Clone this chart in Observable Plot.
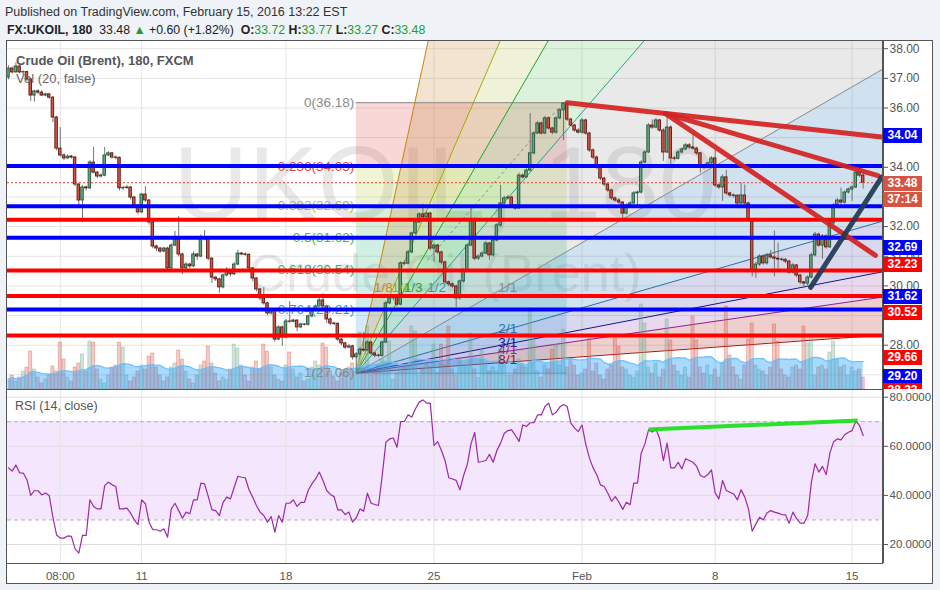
<!DOCTYPE html>
<html>
<head>
<meta charset="utf-8">
<script src="https://cdn.jsdelivr.net/npm/d3@7"></script>
<script src="https://cdn.jsdelivr.net/npm/@observablehq/plot@0.6"></script>
<style>
  html, body { margin: 0; padding: 0; }
  body { width: 940px; height: 590px; background: #eff2f6; position: relative; overflow: hidden; font-family: "Liberation Sans", Arial, Helvetica, sans-serif; }
  .abs { position: absolute; white-space: nowrap; }
  .hdr1 { left: 5px; top: 4px; font-size: 12.5px; line-height: 16px; color: #333; }
  .hdr2 { left: 7px; top: 22px; font-size: 12.3px; line-height: 16px; color: #222; }
  .g { color: #1f9d2b; }
  .panelbg { left: 6px; top: 40px; width: 927px; height: 543px; background: #fff; }
  .frame { left: 6px; top: 39.5px; width: 927px; height: 544px; border: 1.5px solid #555; box-sizing: border-box; pointer-events: none; }
  .sep { background: #555; }
  .plot { position: absolute; left: 0; width: 940px; }
  .lab { font-size: 13px; line-height: 16px; color: #555; }
  .badge { position: absolute; left: 0; width: 39px; height: 15px; color: #fff; font-weight: bold; font-size: 12px; line-height: 15px; text-align: center; }
</style>
</head>
<body>
<div class="abs hdr1">Published on TradingView.com, February 15, 2016 13:22 EST</div>
<div class="abs hdr2"><b>FX:UKOIL, 180</b>&nbsp; 33.48 <span class="g">&#9650;</span> +0.60 (+1.82%) &nbsp;<b>O:</b><span class="g">33.72</span> <b>H:</b><span class="g">33.77</span> <b>L:</b><span class="g">33.27</span> <b>C:</b><span class="g">33.48</span></div>
<div class="abs panelbg"></div>
<div id="bg" class="plot" style="top:40px"></div>
<div id="vol" class="plot" style="top:40px"></div>
<div id="fg" class="plot" style="top:40px"></div>
<div id="rsi" class="plot" style="top:389px"></div>
<div class="abs lab" style="left:16px;top:53px;font-weight:bold;color:#555">Crude Oil (Brent), 180, FXCM</div>
<div class="abs lab" style="left:16px;top:71px;color:#666">Vol (20, false)</div>
<div class="abs lab" style="left:15px;top:398px;font-size:12.5px;color:#555">RSI (14, close)</div>
<div class="abs sep" style="left:882px;top:40px;width:1.5px;height:523px"></div>
<div class="abs sep" style="left:6px;top:388.5px;width:877px;height:1.5px"></div>
<div class="abs sep" style="left:6px;top:562.5px;width:877px;height:1.5px"></div>
<div id="badges" class="abs" style="left:883px;top:40px;width:45px;height:348.5px;overflow:hidden"></div>
<div class="abs frame"></div>
<script>
// ---------------- data ----------------
const firstOpen = 37.03;
const close = [
37.33,37.20,37.40,37.20,37.21,36.96,36.42,36.56,36.52,36.42,
36.46,36.35,35.68,34.63,34.40,34.30,34.36,34.33,33.42,32.88,
33.32,33.29,34.16,33.82,33.69,33.72,34.40,34.47,34.33,34.32,
33.29,33.30,33.32,32.98,32.71,32.48,33.08,32.88,32.14,31.33,
31.26,31.16,31.26,30.59,31.36,31.57,31.06,30.59,30.72,30.66,
31.06,30.99,31.63,31.60,30.92,30.28,30.22,29.95,30.35,30.49,
30.39,30.72,31.09,31.06,31.05,30.59,30.25,29.88,29.58,29.41,
29.07,29.17,28.19,28.60,28.26,28.80,28.79,28.83,28.60,28.70,
28.69,28.97,29.17,29.31,29.51,29.31,28.87,28.73,28.72,28.19,
28.06,27.92,27.96,27.59,27.69,27.85,27.82,28.09,27.72,27.65,
27.64,28.09,29.41,29.58,29.61,29.37,30.76,30.75,31.13,31.77,
32.14,32.41,32.31,32.44,31.26,31.36,31.13,30.79,30.12,30.05,
29.98,29.58,30.15,30.52,31.36,32.24,30.92,30.99,31.09,31.43,
31.03,31.53,32.04,32.78,32.95,32.98,32.71,32.61,33.72,33.66,
33.89,34.47,35.14,35.48,35.14,35.65,35.31,35.17,35.65,35.92,
36.15,35.61,35.41,35.24,35.17,35.58,35.14,34.57,34.33,33.99,
33.62,33.42,33.22,32.95,32.88,32.81,32.44,32.71,32.78,33.12,
33.15,34.16,34.50,35.41,35.34,35.58,35.24,34.50,35.34,34.30,
34.29,34.50,34.60,34.74,34.67,34.63,34.47,34.06,33.99,34.13,
34.30,33.39,33.32,33.66,33.12,33.05,33.04,32.78,33.05,32.78,
32.21,30.52,30.72,30.99,30.76,31.03,30.96,30.92,30.89,30.88,
30.82,30.45,30.69,30.35,30.12,30.08,30.28,31.03,31.73,31.36,
31.67,31.30,32.11,32.71,32.88,32.81,33.15,33.25,33.32,33.82,
33.72,33.48];
const high = [
37.42,37.38,37.52,37.45,37.25,37.24,36.99,36.60,36.62,36.58,
36.50,36.49,36.38,35.72,35.34,34.45,34.42,34.40,34.37,33.45,
33.38,33.36,34.22,34.67,33.86,33.78,34.67,34.53,34.50,34.38,
34.35,33.36,33.38,33.35,33.02,32.75,33.12,33.35,32.92,32.18,
31.38,31.30,31.30,31.30,31.42,31.84,32.34,31.10,30.78,30.76,
31.15,31.10,31.72,31.87,31.65,30.96,30.32,30.26,30.40,30.62,
30.53,30.78,31.20,31.13,31.12,31.08,30.62,30.28,29.92,29.95,
29.45,29.22,29.20,28.65,28.65,28.86,29.47,28.88,28.86,28.74,
28.73,29.02,29.22,29.36,29.58,29.74,29.35,28.92,28.78,28.76,
28.23,28.10,28.02,28.00,27.75,27.92,28.43,28.15,28.12,27.76,
27.70,28.14,29.48,29.64,29.70,29.66,30.82,30.85,31.20,31.82,
32.20,32.47,32.75,32.50,32.48,31.42,31.40,31.17,30.84,30.16,
30.10,30.02,30.20,30.58,31.42,32.61,32.30,31.05,31.15,31.50,
31.47,31.60,32.10,33.39,33.02,33.05,33.02,32.75,33.80,33.78,
33.95,35.81,35.20,35.55,35.52,35.72,35.70,35.35,35.70,35.98,
36.18,36.18,35.66,35.45,35.30,35.64,35.62,35.18,34.62,34.38,
34.03,33.66,33.46,33.26,33.00,32.95,32.85,32.76,32.84,33.18,
33.20,34.22,34.57,35.47,35.60,35.65,35.62,35.30,35.80,35.40,
34.36,34.56,34.66,34.80,34.80,35.14,34.68,34.50,34.10,34.18,
34.36,34.57,33.45,33.75,33.90,33.16,33.10,33.08,33.48,33.40,
32.82,32.25,30.80,31.05,31.05,31.10,31.20,31.85,31.45,30.94,
30.92,30.86,30.75,30.72,30.38,30.15,30.34,31.10,31.80,31.78,
31.73,31.72,32.18,32.78,32.95,33.30,33.20,33.30,33.38,33.90,
33.86,33.77];
const low = [
36.95,37.15,37.18,37.15,37.10,36.90,36.22,36.20,36.45,36.38,
36.38,36.30,35.51,34.55,34.35,34.22,34.26,34.28,33.35,32.71,
32.14,33.20,33.25,33.78,33.62,33.64,33.68,34.36,34.28,34.25,
33.20,33.22,33.25,32.90,32.65,32.40,32.44,32.82,32.05,31.25,
31.16,31.10,31.12,30.55,30.56,31.32,30.98,30.38,30.55,30.58,
30.62,30.86,30.95,31.52,30.85,30.08,30.15,29.75,29.90,30.30,
30.30,30.35,30.68,31.02,31.00,30.52,30.15,29.80,29.50,29.35,
29.00,29.02,28.10,28.15,27.96,28.22,28.74,28.75,28.45,28.56,
28.65,28.64,28.92,29.12,29.27,29.25,28.73,28.66,28.66,28.12,
27.98,27.86,27.88,27.50,27.06,27.62,27.76,27.78,27.66,27.58,
27.58,27.60,28.05,29.36,29.50,29.30,29.33,30.68,30.70,31.08,
31.72,32.10,32.26,32.26,31.18,30.80,31.05,30.70,30.05,29.98,
29.92,29.27,29.52,30.10,30.48,31.32,30.85,30.86,30.94,31.05,
30.86,30.98,31.48,31.97,32.72,32.90,32.65,32.55,32.58,33.60,
33.62,33.85,34.42,35.10,35.08,35.10,35.25,35.10,35.12,35.60,
34.90,35.55,35.35,35.18,35.12,35.12,35.08,34.50,34.26,33.92,
33.55,33.35,33.15,32.88,32.82,32.75,32.25,32.40,32.66,32.74,
32.70,33.10,34.12,34.46,35.28,35.30,35.18,34.20,34.46,34.00,
34.22,34.25,34.45,34.56,34.60,34.58,34.40,33.80,33.92,33.95,
34.08,33.32,33.25,32.85,33.05,32.98,32.96,32.70,32.74,32.72,
32.15,30.30,30.25,30.65,30.70,30.70,30.90,30.30,30.45,30.82,
30.75,30.38,30.40,30.28,30.05,29.93,29.96,30.24,30.98,31.30,
30.90,31.24,31.26,32.06,32.66,32.75,32.76,33.10,32.85,33.28,
33.66,33.27];
const volume = [
10,14,8,12,18,22,38,20, 12,6,10,14,23,18,47,30, 12,8,22,26,35,18,48,47,
20,10,6,14,22,24,47,42, 14,8,12,18,24,20,33,36, 22,14,8,12,22,26,39,30,
18,10,6,14,24,28,43,26, 16,8,12,10,20,45,41,24, 14,8,22,28,20,45,38,22,
14,10,8,24,37,20,12,16, 8,10,22,28,24,46,42,18, 12,8,16,20,22,26,18,57,
22,63,14,20,24,30,28,48, 10,16,20,24,22,63,58,14, 20,26,22,45,16,45,24,63,
20,14,30,24,22,56,20,12, 40,24,18,22,18,40,26,14, 14,20,30,26,22,81,50,18,
12,24,20,40,45,24,60,22, 30,24,14,16,20,51,18,26, 14,10,20,24,55,43,22,20,
14,12,18,85,66,22,16,26, 12,20,70,49,24,18,14,22, 12,73,49,22,16,24,14,20,
12,26,83,34,22,14,10,24, 50,66,24,20,18,14,22,65, 48,20,14,12,22,24,20,63,
46,55,14,22,24,20,37,48, 30,22,24,14,22,18,20,12];
const rsi = [
51.2,49.9,52.4,49.2,49.1,46.3,40.0,41.9,41.9,40.2,
41.0,40.0,31.1,23.9,22.6,22.6,23.5,23.3,18.2,16.5,
23.7,23.7,38.2,35.5,34.5,34.5,44.0,45.4,44.3,43.6,
34.5,34.5,34.8,32.8,30.0,28.1,38.2,36.6,29.1,26.0,
26.0,25.4,26.4,23.0,34.5,36.8,33.8,30.7,33.2,32.5,
38.2,38.2,45.0,44.7,39.5,34.1,33.8,31.8,37.2,39.3,
38.6,43.3,47.8,47.4,47.2,42.3,39.3,35.9,33.2,31.8,
29.1,31.4,25.0,31.8,29.1,36.8,36.8,38.2,35.5,37.2,
37.2,42.0,44.7,46.7,49.5,46.1,42.0,40.4,39.5,34.1,
34.1,32.2,33.2,29.1,30.9,34.5,33.6,40.9,36.8,36.3,
35.9,48.0,61.7,63.0,63.4,59.6,70.1,70.1,72.8,71.9,
75.3,78.0,78.9,77.6,77.6,60.3,61.9,58.3,54.2,47.2,
46.7,46.1,42.3,48.1,52.6,61.0,65.7,53.5,53.8,54.2,
56.7,53.5,58.3,61.3,65.3,66.4,66.7,64.4,62.0,68.7,
68.1,69.6,69.6,72.8,72.8,76.2,77.6,72.8,73.9,76.0,
77.0,76.2,69.4,67.4,66.0,68.7,61.0,55.3,51.2,48.4,
44.3,43.6,40.9,37.6,39.5,37.2,34.3,37.2,36.2,45.0,
45.0,57.2,61.0,66.7,65.8,67.1,63.0,54.2,61.3,51.2,
51.2,53.5,50.8,54.9,54.2,53.5,51.8,48.1,47.4,48.5,
50.4,40.9,38.6,46.1,42.0,41.3,40.6,38.2,42.3,39.3,
34.5,25.4,28.4,31.1,30.0,32.8,33.8,33.2,32.8,32.2,
32.1,28.7,33.2,30.5,28.7,28.7,31.8,45.4,52.9,49.5,
51.8,48.5,57.2,61.9,63.0,62.6,64.7,65.7,66.4,70.2,
68.5,64.4];

const dateTicks = [14, 36, 75, 115, 155, 191, 228];
const dateLabels = ["08:00", "11", "18", "25", "Feb", "8", "15"];
const priceTicks = [27, 28, 29, 30, 31, 32, 33, 34, 35, 36, 37, 38];
const rsiTicks = [20, 40, 60, 80];
const rsiBandEdges = [30, 70];

// Fibonacci retracement (level 1 at the low, level 0 at the high)
const fibFrom = {i: 94, price: 27.057};
const fibTo = {i: 151, price: 36.178};
const fibRatios = [0, 0.236, 0.382, 0.5, 0.618, 0.764, 1];
const fibColors = ["#8a8a8a", "#e04848", "#a9c43c", "#3fbf4c", "#20b57c", "#2f9fe0", "#8a8a8a"];
const fibFills = ["#e04848", "#b5cc3a", "#4cbb50", "#2fb87a", "#2ab3a8", "#3a9ee0"];

// Gann fan
const gannOrigin = {i: 94, price: 27.06};
const gannBox = {bars: 38.4, price: 2.766};
const gannNames = ["1/8", "1/4", "1/3", "1/2", "1/1", "2/1", "3/1", "4/1", "8/1"];
const gannMult = [8, 4, 3, 2, 1, 1 / 2, 1 / 3, 1 / 4, 1 / 8];
const gannColors = ["#c58a1c", "#a3a800", "#22a52a", "#1fa884", "#8c8c8c", "#2472b0", "#14148f", "#8e1f94", "#a51414"];
const gannFills = ["#c89040", "#b0c040", "#50c050", "#909090", "#4a90c0", "#5050b0", "#a050b0", "#c04040"];
const gannFillOpacity = [0.24, 0.2, 0.2, 0.2, 0.26, 0.22, 0.22, 0.26];

// Horizontal levels and trend lines
const blueLevels = [34.04, 32.69, 31.62, 29.20];
const redLevels = [32.23, 30.52, 29.66, 28.33];
const trendLines = [
  {i1: 151, p1: 36.18, i2: 236, p2: 35.02, color: "#d42222"},
  {i1: 177.6, p1: 35.81, i2: 235, p2: 33.72, color: "#d42222"},
  {i1: 177.6, p1: 35.81, i2: 234.3, p2: 31.03, color: "#d42222"},
  {i1: 216.8, p1: 29.95, i2: 236, p2: 33.67, color: "#1f3a52"}
];
const dashedChannel = [{i1: 113.2, p1: 30.86, i2: 149.2, p2: 36.08}];
const rsiTrend = [{i1: 173, v1: 66.8, i2: 229.5, v2: 70.5}];

// price-scale badges (text, price where the badge sits, colour)
const badges = [
  {text: "34.04", at: 35.07, color: "#0000ff"},
  {text: "33.48", at: 33.44, color: "#d75442"},
  {text: "37:14", at: 32.90, color: "#d75442"},
  {text: "32.69", at: 31.28, color: "#0000ff"},
  {text: "32.23", at: 30.70, color: "#ff0000"},
  {text: "31.62", at: 29.64, color: "#0000ff"},
  {text: "30.52", at: 29.10, color: "#ff0000"},
  {text: "29.66", at: 27.57, color: "#ff0000"},
  {text: "29.20", at: 26.94, color: "#0000ff"},
  {text: "28.33", at: 26.44, color: "#ff0000"}
];

// ---------------- derived tables ----------------
const FONT = '"Liberation Sans", Arial, Helvetica, sans-serif';
const bars = close.map((c, i) => ({i, open: i === 0 ? firstOpen : close[i - 1], high: high[i], low: low[i], close: c, volume: volume[i], rsi: rsi[i]}));
const isUp = d => d.close >= d.open;
const X0 = -0.27, X1 = 236.22;
const xScale = {type: "linear", domain: [X0, X1], range: [7, 882]};
const yPrice = {type: "linear", domain: [26.506, 38.2766], range: [349, 0]};

function base(extra) {
  return Object.assign({
    width: 940, height: 349, marginLeft: 7, marginRight: 58, marginTop: 0, marginBottom: 0,
    style: {background: "transparent", fontFamily: FONT, fontSize: "12px", color: "#555"},
    x: Object.assign({}, xScale, {axis: null}),
    y: Object.assign({}, yPrice, {axis: null})
  }, extra);
}

const fibRange = fibTo.price - fibFrom.price;
const fibLevels = fibRatios.map((r, k) => {
  const price = fibTo.price - r * fibRange;
  return {r, price, color: fibColors[k], x1: fibFrom.i, x2: fibTo.i, label: `${r}(${price.toFixed(2)})`};
});
const fibBands = d3.pairs(fibLevels).map(([a, b], k) => ({x1: fibFrom.i, x2: fibTo.i, y1: a.price, y2: b.price, fill: fibFills[k]}));

const slope11 = gannBox.price / gannBox.bars;
const fanEnd = 242;
const fanAt = (m, x) => gannOrigin.price + m * slope11 * (x - gannOrigin.i);
const fans = gannNames.map((name, k) => ({name, m: gannMult[k], color: gannColors[k]}));
const fanLinks = fans.map(f => ({color: f.color, x1: gannOrigin.i, y1: gannOrigin.price, x2: fanEnd, y2: fanAt(f.m, fanEnd)}));
const fanFill = d3.pairs(fans).flatMap(([a, b], k) => [gannOrigin.i, fanEnd].map(x => ({k, x, hi: fanAt(a.m, x), lo: fanAt(b.m, x), fill: gannFills[k], op: gannFillOpacity[k]})));
const fanLabels = fans.map(f => f.m >= 1
  ? {name: f.name, color: f.color, x: gannOrigin.i + gannBox.bars / f.m, y: gannOrigin.price + gannBox.price}
  : {name: f.name, color: f.color, x: gannOrigin.i + gannBox.bars, y: gannOrigin.price + gannBox.price * f.m});

// ---------------- background layer: grid, watermark, fib + gann fills ----------------
const bgPlot = Plot.plot(base({
  marks: [
    Plot.ruleY(priceTicks, {stroke: "#e4e4e4"}),
    Plot.ruleX(dateTicks, {stroke: "#e4e4e4"}),
    Plot.text(["UKOIL, 180"], {text: d => d, frameAnchor: "middle", dy: -29, fontSize: 104, fill: "#000", fillOpacity: 0.09}),
    Plot.text(["Crude Oil (Brent)"], {text: d => d, frameAnchor: "middle", dy: 59, fontSize: 52, fill: "#000", fillOpacity: 0.09}),
    Plot.rect(fibBands, {x1: "x1", x2: "x2", y1: "y1", y2: "y2", fill: "fill", fillOpacity: 0.22}),
    Plot.areaY(fanFill, {x: "x", y1: "lo", y2: "hi", z: "k", fill: "fill", fillOpacity: "op", clip: true}),
    Plot.ruleY(fibLevels, {y: "price", x1: "x1", x2: "x2", stroke: "color", strokeWidth: 1}),
    Plot.link(fanLinks, {x1: "x1", y1: "y1", x2: "x2", y2: "y2", stroke: "color", strokeWidth: 1, clip: true}),
    Plot.link(dashedChannel, {x1: "i1", y1: "p1", x2: "i2", y2: "p2", stroke: "#8a8a8a", strokeWidth: 1, strokeDasharray: "3,3"})
  ]
}));
document.getElementById("bg").appendChild(bgPlot);

// ---------------- volume layer ----------------
const volPlot = Plot.plot(base({
  y: {type: "linear", domain: [0, 349], range: [349, 0], axis: null},
  marks: [
    Plot.rectY(bars, {x1: d => d.i - 0.42, x2: d => d.i + 0.42, y: "volume",
      fill: d => isUp(d) ? "#6ba583" : "#d75442", fillOpacity: 0.3,
      stroke: d => isUp(d) ? "#6ba583" : "#d75442", strokeOpacity: 0.45, strokeWidth: 0.7}),
    Plot.areaY(bars, Plot.windowY({k: 20, anchor: "end", strict: false}, {x: "i", y: "volume", fill: "#1e9bff", fillOpacity: 0.38})),
    Plot.lineY(bars, Plot.windowY({k: 20, anchor: "end", strict: false}, {x: "i", y: "volume", stroke: "#6fc0f6", strokeWidth: 1.2}))
  ]
}));
document.getElementById("vol").appendChild(volPlot);

// ---------------- foreground layer: candles, drawings, axis ----------------
const lastClose = close[close.length - 1];
const fgPlot = Plot.plot(base({
  y: Object.assign({}, yPrice, {axis: "right", ticks: priceTicks, tickFormat: d => d.toFixed(2), tickSize: 5, tickPadding: 2, label: null}),
  marks: [
    Plot.ruleX(bars, {x: "i", y1: "low", y2: "high", stroke: "#737375", strokeWidth: 1}),
    Plot.rect(bars, {x1: d => d.i - 0.34, x2: d => d.i + 0.34, y1: "open", y2: "close",
      fill: d => isUp(d) ? "#6ba583" : "#d75442", stroke: d => isUp(d) ? "#225437" : "#5b1a13", strokeWidth: 0.9}),
    Plot.text(fibLevels, {x: "x1", y: "price", text: "label", textAnchor: "end", dx: -2, fill: "color", fontSize: 13.5}),
    Plot.text(fanLabels, {x: "x", y: "y", text: "name", textAnchor: "start", dy: -3, fill: "color", fontSize: 13.5}),
    Plot.ruleY(blueLevels, {stroke: "#0000ff", strokeWidth: 4}),
    Plot.ruleY(redLevels, {stroke: "#ff0000", strokeWidth: 4}),
    Plot.ruleY([lastClose], {stroke: "#e0452c", strokeWidth: 1, strokeDasharray: "2,2"}),
    Plot.link(trendLines, {x1: "i1", y1: "p1", x2: "i2", y2: "p2", stroke: "color", strokeWidth: 5, strokeOpacity: 0.92, strokeLinecap: "round"})
  ]
}));
document.getElementById("fg").appendChild(fgPlot);

// badges on the price scale, placed with the plot's own y scale
const ys = fgPlot.scale("y");
const badgeBox = document.getElementById("badges");
for (const b of badges) {
  const el = document.createElement("div");
  el.className = "badge";
  el.style.top = (ys.apply(b.at) - 7.5) + "px";
  el.style.background = b.color;
  el.textContent = b.text;
  badgeBox.appendChild(el);
}

// ---------------- RSI panel ----------------
const rsiPlot = Plot.plot({
  width: 940, height: 194, marginLeft: 7, marginRight: 58, marginTop: 0, marginBottom: 20,
  style: {background: "transparent", fontFamily: FONT, fontSize: "11.5px", color: "#555"},
  x: Object.assign({}, xScale, {axis: "bottom", ticks: dateTicks, tickFormat: d => dateLabels[dateTicks.indexOf(d)], tickSize: 0, tickPadding: 8, label: null}),
  y: {type: "linear", domain: [12.26, 83.14], range: [174, 0], axis: "right", ticks: rsiTicks, tickFormat: d => d.toFixed(4), tickSize: 5, tickPadding: 2, label: null},
  marks: [
    Plot.rect([{x1: X0, x2: X1, lo: rsiBandEdges[0], hi: rsiBandEdges[1]}], {x1: "x1", x2: "x2", y1: "lo", y2: "hi", fill: "#f4e6fc"}),
    Plot.ruleY(rsiTicks, {stroke: "#e0dbe3"}),
    Plot.ruleX(dateTicks, {stroke: "#e4e4e4"}),
    Plot.ruleY(rsiBandEdges, {stroke: "#b6a6bb", strokeDasharray: "4,3"}),
    Plot.line(bars, {x: "i", y: "rsi", stroke: "#9a2aa8", strokeWidth: 1.2}),
    Plot.link(rsiTrend, {x1: "i1", y1: "v1", x2: "i2", y2: "v2", stroke: "#14e014", strokeWidth: 4, strokeOpacity: 0.9})
  ]
});
document.getElementById("rsi").appendChild(rsiPlot);
</script>
</body>
</html>
